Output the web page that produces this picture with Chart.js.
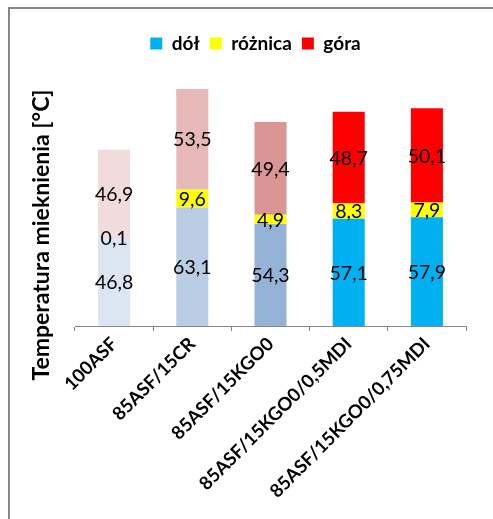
<!DOCTYPE html>
<html lang="pl">
<head>
<meta charset="UTF-8" />
<title>Temperatura mięknienia</title>
<style>
  html,body{margin:0;background:#fff;}
  .wrap{position:relative;width:493px;height:519px;overflow:hidden;}
  .frame{position:absolute;left:8px;top:7px;width:600px;height:600px;border-left:2px solid #878787;border-top:2px solid #878787;}
  canvas{position:absolute;left:0;top:0;}
</style>
<script src="https://cdn.jsdelivr.net/npm/chart.js@4.4.0/dist/chart.umd.min.js"></script>
</head>
<body>
<div class="wrap">
  <div class="frame"></div>
  <canvas id="c" width="493" height="519"></canvas>
</div>
<script>
// dane
const categories = ['100ASF','85ASF/15CR','85ASF/15KGO0','85ASF/15KGO0/0,5MDI','85ASF/15KGO0/0,75MDI'];
const dol = [46.8, 63.1, 54.3, 57.1, 57.9];
const roznica = [0.1, 9.6, 4.9, 8.3, 7.9];
const gora = [46.9, 53.5, 49.4, 48.7, 50.1];
const seriesNames = ['dół', 'różnica', 'góra'];
const yMin = 0, yMax = 140;
const yTitle = 'Temperatura mieknienia [°C]';

// kolory (pierwsze trzy słupki wyblakłe)
const dolColors = ['#dce6f2', '#b9cde5', '#95b3d7', '#00b0f0', '#00b0f0'];
const roznicaColors = ['#ffffcc', '#ffff00', '#ffff00', '#ffff00', '#ffff00'];
const goraColors = ['#f2dcdb', '#e6b9b8', '#d99694', '#ff0000', '#ff0000'];
const legendColors = ['#00b0f0', '#ffff00', '#ff0000'];

const FONT = 'Lato, "Open Sans", sans-serif';

// etykiety wartości w środku segmentów
const valueLabels = {
  id: 'valueLabels',
  afterDatasetsDraw(chart) {
    const ctx = chart.ctx;
    ctx.save();
    ctx.font = '19.5px ' + FONT;
    ctx.fillStyle = '#000';
    ctx.textAlign = 'center';
    ctx.textBaseline = 'middle';
    chart.data.datasets.forEach((ds, i) => {
      chart.getDatasetMeta(i).data.forEach((bar, j) => {
        const {x, y, base} = bar.getProps(['x', 'y', 'base'], true);
        ctx.fillText(ds.data[j].toFixed(1).replace('.', ','), x, (y + base) / 2 + 1);
      });
    });
    ctx.restore();
  }
};

// tytuł osi Y
const yTitlePlugin = {
  id: 'yTitle',
  afterDraw(chart) {
    const ctx = chart.ctx;
    ctx.save();
    ctx.translate(42, 235);
    ctx.rotate(-Math.PI / 2);
    ctx.font = 'bold 23px ' + FONT;
    ctx.fillStyle = '#000';
    ctx.textAlign = 'center';
    ctx.textBaseline = 'middle';
    ctx.fillText(yTitle, 0, 0);
    ctx.restore();
  }
};

const mkSet = (label, data, colors, legendColor) => ({
  label, data,
  backgroundColor: colors,
  legendColor,
  borderWidth: 0,
  categoryPercentage: 1,
  barPercentage: 0.41
});

new Chart(document.getElementById('c'), {
  type: 'bar',
  data: {
    labels: categories,
    datasets: [
      mkSet(seriesNames[0], dol, dolColors, legendColors[0]),
      mkSet(seriesNames[1], roznica, roznicaColors, legendColors[1]),
      mkSet(seriesNames[2], gora, goraColors, legendColors[2])
    ]
  },
  options: {
    responsive: false,
    devicePixelRatio: 1,
    animation: false,
    layout: {padding: {top: 24, right: 27, left: 45, bottom: 0}},
    plugins: {
      tooltip: {enabled: false},
      legend: {
        position: 'top',
        labels: {
          boxWidth: 12,
          boxHeight: 12,
          padding: 10,
          color: '#000',
          font: {family: FONT, size: 19, weight: 'bold'},
          generateLabels(chart) {
            return chart.data.datasets.map((ds, i) => ({
              text: ds.label,
              fillStyle: ds.legendColor,
              strokeStyle: ds.legendColor,
              lineWidth: 0,
              datasetIndex: i
            }));
          }
        }
      }
    },
    scales: {
      x: {
        stacked: true,
        grid: {drawOnChartArea: false, drawTicks: true, tickLength: 5, color: '#868686'},
        border: {display: true, color: '#868686', width: 1},
        ticks: {
          autoSkip: false,
          maxRotation: 45,
          minRotation: 45,
          padding: 2,
          color: '#000',
          font: {family: FONT, size: 18.5, weight: 'bold'}
        },
        afterFit(scale) { scale.height = 193; }
      },
      y: {
        stacked: true,
        min: yMin,
        max: yMax,
        grid: {display: false},
        border: {display: false},
        ticks: {display: false},
        afterFit(scale) { scale.width = 30; }
      }
    }
  },
  plugins: [valueLabels, yTitlePlugin]
});
</script>
</body>
</html>
